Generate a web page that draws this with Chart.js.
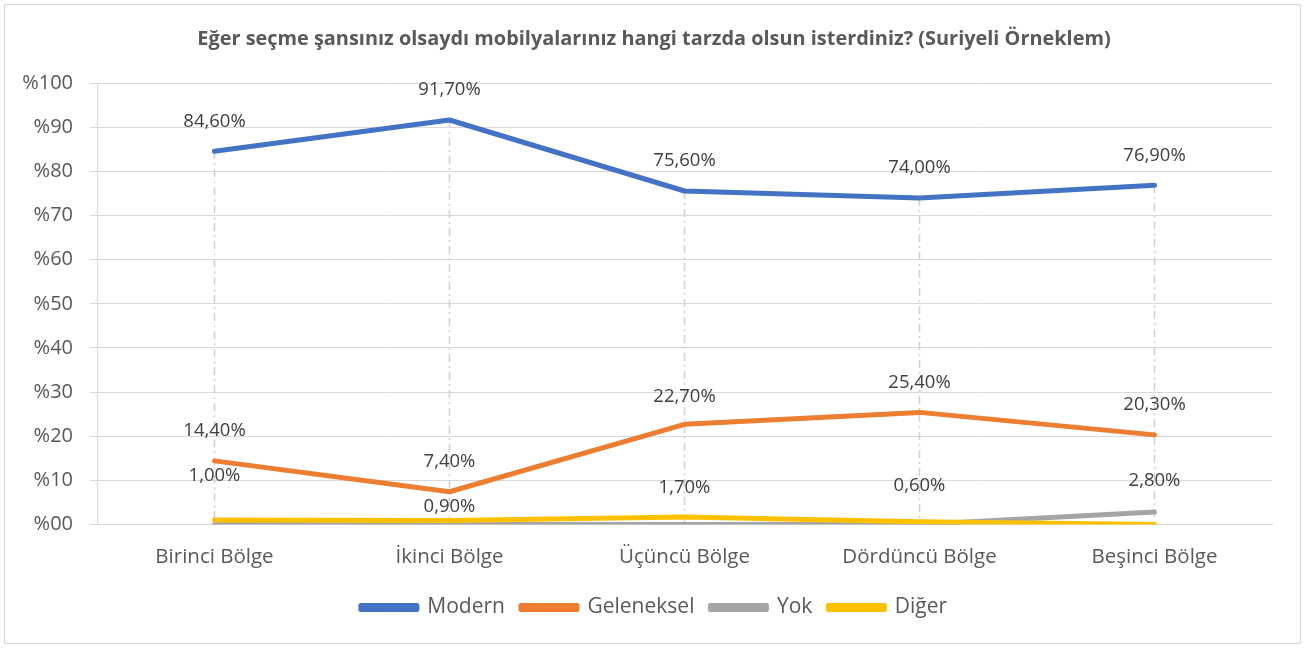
<!DOCTYPE html>
<html>
<head>
<meta charset="utf-8">
<script src="https://cdn.jsdelivr.net/npm/chart.js@4/dist/chart.umd.min.js"></script>
<style>
  body { margin: 0; background: #fff; }
  #wrap { position: absolute; left: 4px; top: 4px; width: 1295px; height: 638px; border: 1px solid #d9d9d9; }
</style>
</head>
<body>
<div id="wrap"><canvas id="chart" width="1295" height="638"></canvas></div>
<script>
// data
var regions = ["Birinci Bölge", "İkinci Bölge", "Üçüncü Bölge", "Dördüncü Bölge", "Beşinci Bölge"];
var modern = [84.6, 91.7, 75.6, 74.0, 76.9];
var geleneksel = [14.4, 7.4, 22.7, 25.4, 20.3];
var yok = [0, 0, 0, 0, 2.8];
var diger = [1.0, 0.9, 1.7, 0.6, 0];
var yTicks = [0, 10, 20, 30, 40, 50, 60, 70, 80, 90, 100];

// how far above the point each label sits (px)
var labelLift = {
  "Modern": [30, 30, 30, 30, 30],
  "Geleneksel": [30, 30, 28, 30, 30],
  "Yok": [30, 30, 30, 30, 31],
  "Diğer": [44, 14, 29, 36, 30]
};

var FONT = "'Open Sans', sans-serif";

function fmt(v) {
  return v.toFixed(2).replace('.', ',') + '%';
}

// dash-dot drop lines from the highest point of each category to the axis
var dropLines = {
  id: 'dropLines',
  beforeDatasetsDraw: function(chart) {
    var ctx = chart.ctx, x = chart.scales.x, y = chart.scales.y;
    ctx.save();
    ctx.strokeStyle = '#d0d0d0';
    ctx.lineWidth = 1.5;
    ctx.setLineDash([8, 4, 2, 4]);
    for (var i = 0; i < regions.length; i++) {
      var top = Math.max(modern[i], geleneksel[i], yok[i], diger[i]);
      var px = x.getPixelForValue(i);
      ctx.beginPath();
      ctx.moveTo(px, y.getPixelForValue(top));
      ctx.lineTo(px, y.getPixelForValue(0));
      ctx.stroke();
    }
    ctx.restore();
  }
};

var pointLabels = {
  id: 'pointLabels',
  afterDatasetsDraw: function(chart) {
    var ctx = chart.ctx;
    ctx.save();
    ctx.font = '18.5px ' + FONT;
    ctx.fillStyle = '#404040';
    ctx.textAlign = 'center';
    ctx.textBaseline = 'middle';
    chart.data.datasets.forEach(function(ds, di) {
      var meta = chart.getDatasetMeta(di);
      meta.data.forEach(function(pt, i) {
        var v = ds.data[i];
        if (v <= 0) return;
        ctx.fillText(fmt(v), pt.x, pt.y - labelLift[ds.label][i]);
      });
    });
    ctx.restore();
  }
};

function line(label, data, color) {
  return {
    label: label,
    data: data,
    borderColor: color,
    backgroundColor: color,
    borderWidth: 5,
    borderCapStyle: 'round',
    borderJoinStyle: 'round',
    pointRadius: 0,
    tension: 0,
    fill: false
  };
}

new Chart(document.getElementById('chart'), {
  type: 'line',
  data: {
    labels: regions,
    // reversed so that Diğer is painted on top, legend is reversed back
    datasets: [
      line('Diğer', diger, '#FFC000'),
      line('Yok', yok, '#A5A5A5'),
      line('Geleneksel', geleneksel, '#ED7D31'),
      line('Modern', modern, '#4472C4')
    ]
  },
  options: {
    responsive: false,
    animation: false,
    layout: { padding: { left: 31, right: 28, top: 14, bottom: 15 } },
    plugins: {
      title: {
        display: true,
        text: 'Eğer seçme şansınız olsaydı mobilyalarınız hangi tarzda olsun isterdiniz? (Suriyeli Örneklem)',
        color: '#595959',
        font: { family: FONT, size: 19.9, weight: 'bold' },
        padding: { top: 8.3, bottom: 32.2 }
      },
      legend: {
        position: 'bottom',
        reverse: true,
        labels: {
          color: '#595959',
          font: { family: FONT, size: 21 },
          boxWidth: 56,
          boxHeight: 4,
          padding: 16
        }
      },
      tooltip: { enabled: false }
    },
    scales: {
      x: {
        offset: true,
        grid: { display: false },
        border: { display: true, color: '#d9d9d9' },
        ticks: { color: '#595959', font: { family: FONT, size: 20.5 }, padding: 12 }
      },
      y: {
        min: 0,
        max: 100,
        afterFit: function(s) {
          s.width = 61;
          // labels stick out into the left padding, don't clip them
          s._computeLabelArea = function() { return undefined; };
        },
        afterBuildTicks: function(s) { s.ticks = yTicks.map(function(v) { return { value: v }; }); },
        grid: { color: '#d9d9d9', lineWidth: 1, tickLength: 7 },
        border: { display: true, color: '#d9d9d9' },
        ticks: {
          color: '#595959',
          font: { family: FONT, size: 20 },
          padding: 17,
          callback: function(v) { return '%' + (v < 10 ? '0' + v : v); }
        }
      }
    }
  },
  plugins: [dropLines, pointLabels]
});
</script>
</body>
</html>
